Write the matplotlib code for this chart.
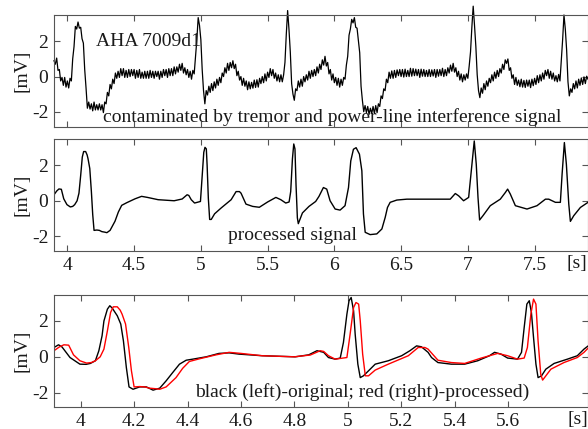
import numpy as np
import matplotlib
matplotlib.use("Agg")
import matplotlib.pyplot as plt

plt.rcParams['font.family'] = ['Liberation Serif', 'DejaVu Serif']
plt.rcParams['axes.unicode_minus'] = False

# contaminated record (tremor + power line), one sample per 10 ms from 3.90 s
noisy_start = 3.9
noisy_step = 0.01
noisy_mv = [
    0.9, 0.7, 1.05, 0.35, 0.4, -0.25, -0.05, -0.5, -0.05, -0.6,
    -0.25, -0.65, -0.1, -0.25, 1.0, 1.7, 2.85, 2.7, 3.1, 2.75,
    2.8, 2.15, 1.9, 0.4, -0.65, -1.8, -1.45, -1.85, -1.55, -1.95,
    -1.45, -1.9, -1.6, -1.9, -1.55, -1.9, -1.6, -2.05, -1.45, -1.55,
    -0.9, -1.1, -0.45, -0.7, -0.15, -0.4, 0.2, -0.1, 0.3, -0.05,
    0.45, 0.05, 0.45, -0.05, 0.35, -0.05, 0.4, 0.0, 0.4, 0.05,
    0.4, -0.1, 0.35, -0.05, 0.4, -0.1, 0.25, -0.1, 0.3, -0.1,
    0.3, -0.1, 0.35, -0.05, 0.3, -0.1, 0.3, 0.0, 0.3, -0.15,
    0.3, -0.05, 0.4, 0.05, 0.4, -0.05, 0.45, 0.05, 0.45, 0.05,
    0.55, 0.15, 0.55, 0.25, 0.7, 0.35, 0.75, 0.2, 0.5, 0.1,
    0.4, -0.05, 0.3, -0.15, 0.35, 0.15, 1.1, 2.1, 3.35, 2.9,
    2.1, 0.4, -0.8, -1.55, -0.8, -1.05, -0.55, -0.9, -0.4, -0.8,
    -0.3, -0.65, -0.15, -0.5, -0.05, -0.35, 0.2, 0.0, 0.5, 0.2,
    0.75, 0.35, 0.8, 0.5, 0.9, 0.45, 0.7, 0.05, 0.3, -0.2,
    0.0, -0.5, -0.1, -0.55, -0.25, -0.75, -0.3, -0.7, -0.33, -0.66,
    -0.2, -0.62, -0.18, -0.6, -0.1, -0.4, 0.0, -0.35, 0.15, -0.25,
    0.25, -0.05, 0.45, 0.05, 0.4, -0.1, 0.2, -0.25, 0.1, -0.3,
    0.1, -0.3, 0.1, 0.8, 2.4, 3.75, 2.7, 1.4, -0.4, -1.0,
    -1.35, -0.7, -0.8, -0.25, -0.6, -0.15, -0.55, 0.0, -0.3, 0.1,
    -0.2, 0.3, -0.1, 0.35, 0.0, 0.4, 0.05, 0.55, 0.2, 0.7,
    0.4, 0.95, 0.65, 1.15, 0.6, 0.8, 0.15, 0.4, -0.2, 0.15,
    -0.35, -0.05, -0.5, -0.1, -0.6, -0.15, -0.5, -0.05, -0.15, 0.65,
    1.15, 2.35, 2.7, 3.25, 3.05, 3.35, 2.8, 2.75, 2.05, 1.35,
    -0.55, -1.35, -2.0, -1.65, -2.05, -1.7, -2.15, -1.8, -2.1, -1.7,
    -2.1, -1.65, -2.05, -1.55, -1.7, -1.1, -1.25, -0.7, -0.8, -0.15,
    -0.35, 0.25, -0.1, 0.32, -0.1, 0.35, -0.05, 0.38, 0.05, 0.4,
    0.0, 0.4, -0.03, 0.42, 0.0, 0.35, 0.0, 0.47, 0.02, 0.45,
    0.05, 0.42, 0.05, 0.4, -0.05, 0.42, 0.02, 0.4, 0.0, 0.35,
    0.0, 0.4, 0.0, 0.38, 0.03, 0.4, -0.05, 0.4, 0.02, 0.4,
    0.05, 0.47, 0.0, 0.4, 0.05, 0.5, 0.2, 0.65, 0.3, 0.75,
    0.25, 0.5, 0.0, 0.3, -0.2, 0.15, -0.3, 0.1, -0.2, 0.15,
    -0.1, 0.6, 1.4, 2.8, 4.0, 2.9, 1.7, 0.1, -0.8, -1.2,
    -0.65, -0.95, -0.4, -0.75, -0.25, -0.55, -0.1, -0.35, 0.1, -0.25,
    0.25, -0.1, 0.35, 0.0, 0.45, 0.2, 0.7, 0.4, 0.95, 0.75,
    1.0, 0.35, 0.5, -0.1, 0.1, -0.45, -0.05, -0.5, -0.2, -0.58,
    -0.15, -0.6, -0.22, -0.62, -0.2, -0.55, -0.2, -0.63, -0.15, -0.52,
    -0.1, -0.45, 0.05, -0.35, 0.1, -0.25, 0.2, -0.15, 0.35, 0.05,
    0.4, -0.1, 0.3, -0.15, 0.2, -0.25, 0.05, -0.3, 0.12, -0.25,
    0.9, 2.1, 3.5, 2.7, 1.5, -0.3, -1.1, -0.7, -0.9, -0.4,
    -0.7, -0.25, -0.65, -0.15, -0.5, -0.08, -0.45, -0.02, -0.4, 0.02,
    -0.15,
]

proc_t = [
    3.90, 3.92, 3.937, 3.955, 3.973, 3.997, 4.022, 4.04, 4.055, 4.073,
    4.087, 4.10, 4.112, 4.122, 4.137, 4.148, 4.155, 4.168, 4.18, 4.19,
    4.20, 4.221, 4.24, 4.258, 4.28, 4.296, 4.32, 4.34, 4.357, 4.382,
    4.407, 4.445, 4.507, 4.556, 4.60, 4.68, 4.80, 4.86, 4.897, 4.91,
    4.928, 4.953, 4.984, 4.997, 5.009, 5.022, 5.031, 5.041, 5.047, 5.056,
    5.066, 5.078, 5.103, 5.152, 5.227, 5.264, 5.289, 5.301, 5.338, 5.388,
    5.438, 5.50, 5.562, 5.599, 5.636, 5.661, 5.673, 5.686, 5.696, 5.705,
    5.713, 5.723, 5.73, 5.742, 5.761, 5.81, 5.86, 5.885, 5.918, 5.943,
    5.968, 6.006, 6.043, 6.08, 6.106, 6.123, 6.143, 6.163, 6.188, 6.206,
    6.218, 6.231, 6.268, 6.318, 6.356, 6.381, 6.398, 6.418, 6.468, 6.543,
    6.718, 6.868, 6.906, 6.931, 6.968, 7.006, 7.031, 7.048, 7.063, 7.076,
    7.088, 7.113, 7.168, 7.243, 7.281, 7.298, 7.318, 7.356, 7.443, 7.518,
    7.581, 7.606, 7.656, 7.693, 7.706, 7.723, 7.738, 7.756, 7.768, 7.793,
    7.843, 7.90,
]
proc_mv = [
    0.34, 0.55, 0.67, 0.65, 0.11, -0.22, -0.35, -0.32, -0.22, 0.0,
    0.43, 1.45, 2.48, 2.79, 2.79, 2.6, 2.38, 1.83, 0.52, -0.78,
    -1.68, -1.66, -1.68, -1.75, -1.78, -1.81, -1.68, -1.4, -1.16, -0.64,
    -0.26, -0.11, 0.11, 0.25, 0.19, 0.06, 0.0, 0.1, 0.34, 0.3,
    0.06, -0.13, -0.07, -0.04, 1.26, 2.75, 3.03, 2.94, 2.01, 0.15,
    -1.06, -1.06, -0.74, -0.41, 0.06, 0.52, 0.52, 0.43, -0.19, -0.32,
    -0.37, -0.07, 0.19, 0.06, -0.13, -0.07, 0.52, 2.38, 3.22, 2.94,
    0.89, -0.97, -1.3, -1.06, -0.69, -0.32, -0.04, 0.25, 0.75, 0.66,
    0.0, -0.47, -0.53, -0.28, 0.75, 2.26, 2.92, 3.01, 2.64, 1.7,
    -0.75, -1.79, -1.92, -1.88, -1.6, -0.94, -0.38, -0.09, 0.04, 0.09,
    0.09, 0.09, 0.41, 0.28, 0.0, 0.19, 2.07, 3.39, 2.07, 0.19,
    -1.09, -0.85, -0.28, 0.09, 0.47, 0.66, 0.38, -0.28, -0.47, -0.28,
    0.09, 0.09, -0.09, -0.09, 1.51, 3.3, 2.07, -0.19, -1.17, -0.85,
    -0.38, -0.09,
]

# original clean record (black trace, bottom panel)
orig_t = [
    3.90, 3.917, 3.93, 3.96, 3.997, 4.02, 4.036, 4.055, 4.068, 4.08,
    4.087, 4.10, 4.109, 4.118, 4.137, 4.15, 4.16, 4.171, 4.181, 4.196,
    4.221, 4.246, 4.271, 4.296, 4.32, 4.345, 4.37, 4.395, 4.42, 4.47,
    4.518, 4.556, 4.593, 4.68, 4.804, 4.854, 4.885, 4.91, 4.928, 4.953,
    4.972, 4.984, 4.997, 5.005, 5.013, 5.022, 5.028, 5.038, 5.047, 5.059,
    5.078, 5.103, 5.152, 5.202, 5.233, 5.258, 5.276, 5.301, 5.314, 5.338,
    5.388, 5.438, 5.487, 5.531, 5.55, 5.574, 5.599, 5.636, 5.651, 5.661,
    5.671, 5.68, 5.688, 5.696, 5.705, 5.713, 5.726, 5.742, 5.773, 5.823,
    5.86, 5.885, 5.90,
]
orig_mv = [
    0.52, 0.67, 0.55, -0.04, -0.41, -0.42, -0.37, -0.22, 0.34, 1.17,
    2.0, 2.66, 2.85, 2.72, 2.29, 1.83, 0.89, -0.6, -1.68, -1.81,
    -1.68, -1.68, -1.86, -1.75, -1.34, -0.87, -0.41, -0.19, -0.13, 0.0,
    0.19, 0.22, 0.15, 0.06, 0.0, 0.11, 0.34, 0.25, -0.04, -0.13,
    -0.07, 0.8, 2.38, 3.13, 3.31, 2.57, 1.26, -0.41, -1.16, -1.06,
    -0.78, -0.41, -0.22, 0.06, 0.34, 0.61, 0.56, 0.25, -0.04, -0.32,
    -0.41, -0.41, -0.22, 0.06, 0.25, 0.15, -0.07, -0.13, 0.25, 1.64,
    2.94, 3.13, 2.48, 1.08, -0.41, -1.16, -1.06, -0.69, -0.37, -0.13,
    0.06, 0.43, 0.6,
]

ytick_vals = [-2, 0, 2]
ytick_labels = ['-2', '0', '2']
long_ticks = [4, 4.5, 5, 5.5, 6, 6.5, 7, 7.5]
long_labels = ['4', '4.5', '5', '5.5', '6', '6.5', '7', '7.5']
zoom_ticks = [4, 4.2, 4.4, 4.6, 4.8, 5, 5.2, 5.4, 5.6]
zoom_labels = ['4', '4.2', '4.4', '4.6', '4.8', '5', '5.2', '5.4', '5.6']

GRAY = '#555555'
FS = 14


def style(ax, xlim, ylim, ticks, labels, show_x=True):
    ax.set_xlim(xlim)
    ax.set_ylim(ylim)
    ax.set_xticks(ticks)
    ax.set_xticklabels(labels if show_x else [])
    ax.set_yticks(ytick_vals)
    ax.set_yticklabels(ytick_labels)
    ax.tick_params(direction='in', top=True, right=True, length=4, width=0.8,
                   color=GRAY, labelcolor='#1a1a1a', labelsize=FS, pad=4)
    for s in ax.spines.values():
        s.set_color(GRAY)
        s.set_linewidth(0.8)
    ax.text(-0.06, 0.5, '[mV]', transform=ax.transAxes, rotation=90,
            ha='center', va='center', fontsize=FS, color='#1a1a1a')


fig = plt.figure(figsize=(5.88, 4.29), dpi=100)
left, width = 54 / 588, 534 / 588

# top: contaminated signal
ax1 = fig.add_axes([left, 0.7047, width, 0.2604])
t_noisy = noisy_start + noisy_step * np.arange(len(noisy_mv))
ax1.plot(t_noisy, noisy_mv, color='black', lw=0.9, clip_on=False)
style(ax1, (3.9, 7.9), (-2.85, 3.5), long_ticks, long_labels, show_x=False)
ax1.text(0.079, 0.767, 'AHA 7009d1', transform=ax1.transAxes,
         ha='left', va='center', fontsize=FS, color='#1a1a1a')
ax1.text(0.092, 0.087, 'contaminated by tremor and power-line interference signal',
         transform=ax1.transAxes, ha='left', va='center', fontsize=FS, color='#1a1a1a')

# middle: processed
ax2 = fig.add_axes([left, 0.4149, width, 0.2610])
ax2.plot(proc_t, proc_mv, color='black', lw=1.0)
style(ax2, (3.9, 7.9), (-2.85, 3.5), long_ticks, long_labels)
ax2.text(0.326, 0.135, 'processed signal', transform=ax2.transAxes,
         ha='left', va='center', fontsize=FS, color='#1a1a1a')
ax2.text(0.979, -0.116, '[s]', transform=ax2.transAxes,
         ha='center', va='center', fontsize=FS, color='#1a1a1a')

# bottom: original vs processed, zoomed in
ax3 = fig.add_axes([left, 0.0513, width, 0.2611])
ax3.plot(orig_t, orig_mv, color='black', lw=1.0)
ax3.plot(proc_t, proc_mv, color='#ff0000', lw=1.0)
style(ax3, (3.9, 5.9), (-2.8, 3.45), zoom_ticks, zoom_labels)
ax3.text(0.264, 0.137, 'black (left)-original; red (right)-processed)',
         transform=ax3.transAxes, ha='left', va='center', fontsize=FS, color='#1a1a1a')
ax3.text(0.981, -0.116, '[s]', transform=ax3.transAxes,
         ha='center', va='center', fontsize=FS, color='#1a1a1a')

fig.savefig('out.png', dpi=100)
